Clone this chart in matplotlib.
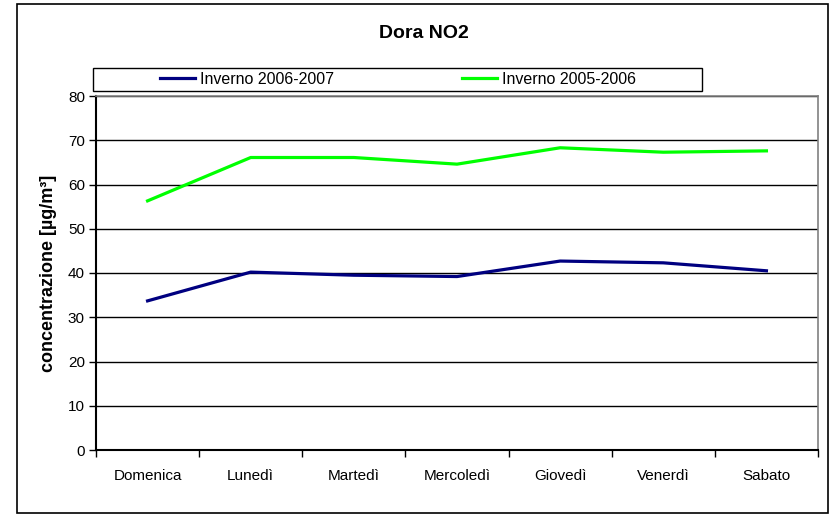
import matplotlib
matplotlib.use('Agg')
import matplotlib.pyplot as plt
from matplotlib.patches import Rectangle

# Data
days = ['Domenica', 'Lunedì', 'Martedì', 'Mercoledì', 'Giovedì', 'Venerdì', 'Sabato']
inverno_2006_2007 = [33.7, 40.2, 39.5, 39.2, 42.7, 42.3, 40.5]
inverno_2005_2006 = [56.3, 66.1, 66.1, 64.6, 68.3, 67.3, 67.6]
y_ticks = [0, 10, 20, 30, 40, 50, 60, 70, 80]

plt.rcParams['font.family'] = ['Liberation Sans', 'DejaVu Sans']

W, H = 835, 515
fig = plt.figure(figsize=(W / 100, H / 100), dpi=100)

# Outer chart frame
fig.patches.append(Rectangle((17 / W, 2 / H), (828 - 17) / W, (511 - 2) / H,
                             transform=fig.transFigure, fill=False,
                             edgecolor='black', linewidth=1.2))

# Legend frame (drawn by hand, wide box like the original)
fig.patches.append(Rectangle((93 / W, 1 - 91 / H), (702 - 93) / W, 23 / H,
                             transform=fig.transFigure, fill=False,
                             edgecolor='black', linewidth=1.0))

ax = fig.add_axes([96 / W, (H - 450) / H, (818 - 96) / W, (450 - 96) / H])
x = list(range(len(days)))

ax.plot(x, inverno_2006_2007, color='#000080', linewidth=2.3, label='Inverno 2006-2007')
ax.plot(x, inverno_2005_2006, color='#00FF00', linewidth=2.3, label='Inverno 2005-2006')

ax.set_xlim(-0.5, len(days) - 0.5)
ax.set_ylim(0, 80)
ax.set_yticks(y_ticks)
ax.tick_params(axis='y', labelsize=11, length=5, width=1, direction='out', pad=3)
ax.yaxis.grid(True, color='black', linewidth=1)
ax.set_axisbelow(True)

# Category labels between tick marks
ax.set_xticks([i - 0.5 for i in range(len(days) + 1)])
ax.set_xticklabels([])
ax.set_xticks(x, minor=True)
ax.set_xticklabels(days, minor=True, fontsize=11)
ax.tick_params(axis='x', which='major', length=5, width=1, direction='out')
ax.tick_params(axis='x', which='minor', length=0, pad=14)

for side in ['top', 'right']:
    ax.spines[side].set_color('#808080')
    ax.spines[side].set_linewidth(1.2)
for side in ['left', 'bottom']:
    ax.spines[side].set_color('black')
    ax.spines[side].set_linewidth(1.5)

ax.set_ylabel('concentrazione [µg/m³]', fontsize=13, fontweight='bold', labelpad=8)

fig.text(424 / W, 1 - 33 / H, 'Dora NO2', ha='center', va='center',
         fontsize=14, fontweight='bold')

leg = fig.legend(loc='center', bbox_to_anchor=(398 / W, 1 - 79.5 / H),
                 ncol=2, fontsize=11.5, frameon=False,
                 handlelength=2.2, columnspacing=8.0,
                 borderpad=0.0, handletextpad=0.3)

fig.savefig('out.png', dpi=100)
